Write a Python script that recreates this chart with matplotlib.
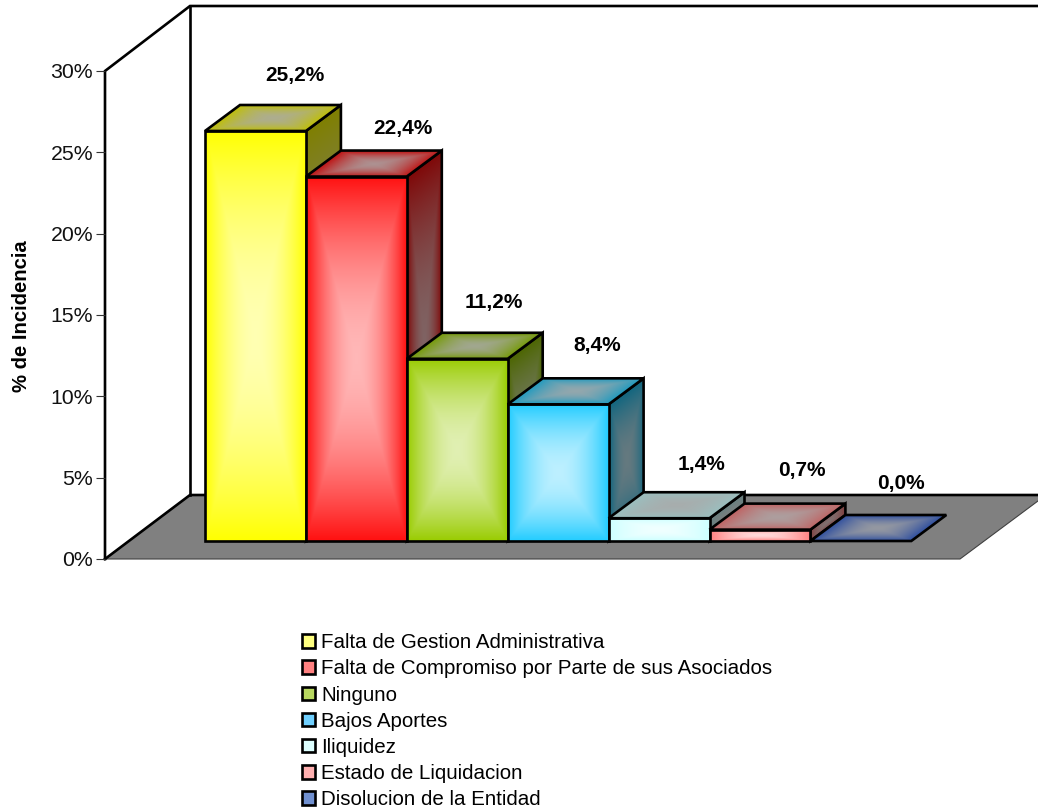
import numpy as np
import matplotlib
matplotlib.use("Agg")
import matplotlib.pyplot as plt
from matplotlib.patches import Polygon, Patch

plt.rcParams['font.family'] = ['Liberation Sans', 'DejaVu Sans']

# ---- data ----
categories = ["Falta de Gestion Administrativa",
              "Falta de Compromiso por Parte de sus Asociados",
              "Ninguno", "Bajos Aportes", "Iliquidez",
              "Estado de Liquidacion", "Disolucion de la Entidad"]
values = [25.2, 22.4, 11.2, 8.4, 1.4, 0.7, 0.0]
value_labels = ["25,2%", "22,4%", "11,2%", "8,4%", "1,4%", "0,7%", "0,0%"]
tick_values = [0, 5, 10, 15, 20, 25, 30]
tick_labels = ["0%", "5%", "10%", "15%", "20%", "25%", "30%"]
axis_label = "% de Incidencia"

# ---- styles / layout ----
colors = ["#FFFF00", "#FF1010", "#99CC00", "#22CCFF", "#CCFFFF", "#FF8080", "#2F4F9F"]
legend_colors = ["#FFFF80", "#FF8080", "#B8D860", "#70D0FF", "#DDFFFF", "#FFB0B0", "#7090D0"]
label_dx_px = [39, 47, 37, 39, 42, 42, 40]
label_dy_px = [55, 48, 56, 59, 54, 59, 57]

W, H = 1038, 810
BAR_L, BAR_W, BASE_Y, PX_PER_UNIT = 205, 100.9, 541, 16.27
DEPTH_X, DEPTH_Y = 35 / BAR_W, 26 / PX_PER_UNIT
LW = 1.9

fig = plt.figure(figsize=(W / 100, H / 100), dpi=100, facecolor="white")
ax = fig.add_axes([0, 0, 1, 1])
ax.axis("off")
x_min, x_max = -BAR_L / BAR_W, (W - BAR_L) / BAR_W
y_min, y_max = (BASE_Y - H) / PX_PER_UNIT, BASE_Y / PX_PER_UNIT


def px(xp, yp):
    """pixel position of the frame -> data coordinates"""
    return ((xp - BAR_L) / BAR_W, (BASE_Y - yp) / PX_PER_UNIT)


def shade(origin, e1, e2, edge_rgb, mid_rgb, z):
    """parallelogram filled by a rectangular path gradient, black outline"""
    o, e1, e2 = map(np.asarray, (origin, e1, e2))
    corners = np.array([o, o + e1, o + e1 + e2, o + e2])
    x0, x1 = corners[:, 0].min(), corners[:, 0].max()
    y0, y1 = corners[:, 1].min(), corners[:, 1].max()
    nx = max(int((x1 - x0) * BAR_W) * 2, 4)
    ny = max(int((y1 - y0) * PX_PER_UNIT) * 2, 4)
    gx, gy = np.meshgrid(np.linspace(x0, x1, nx), np.linspace(y0, y1, ny))
    inv = np.linalg.inv(np.column_stack([e1, e2]))
    u = inv[0, 0] * (gx - o[0]) + inv[0, 1] * (gy - o[1])
    v = inv[1, 0] * (gx - o[0]) + inv[1, 1] * (gy - o[1])
    t = np.clip(np.minimum(1 - np.abs(2 * u - 1), 1 - np.abs(2 * v - 1)), 0, 1)
    t = 1 - (1 - t) ** 1.8
    img = (np.asarray(edge_rgb)[None, None, :] * (1 - t[..., None])
           + np.asarray(mid_rgb)[None, None, :] * t[..., None])
    im = ax.imshow(np.clip(img, 0, 1), extent=(x0, x1, y0, y1), origin="lower", aspect="auto",
                   interpolation="bilinear", zorder=z)
    outline = Polygon(corners, closed=True, fc="none", ec="black", lw=LW,
                      joinstyle="miter", zorder=z + 0.1)
    ax.add_patch(outline)
    im.set_clip_path(Polygon(corners, closed=True, transform=ax.transData))


# ---- floor and walls ----
floor = [px(105, 559), px(190, 495), px(1046, 495), px(960, 559)]
ax.add_patch(Polygon(floor, closed=True, fc="#808080", ec="#404040", lw=0.8, zorder=1))
frame_lines = [[(105, 559), (190, 495), (1038, 495)],
               [(105, 559), (105, 71), (190, 6), (1038, 6)],
               [(190, 6), (190, 495)]]
for line in frame_lines:
    pts = np.array([px(*p) for p in line])
    ax.plot(pts[:, 0], pts[:, 1], color="black", lw=LW, zorder=2, solid_joinstyle="miter")

# ---- bars ----
for i, (val, col) in enumerate(zip(values, colors)):
    rgb = np.array(matplotlib.colors.to_rgb(col))
    z = 3 + i
    if val > 0:
        shade((i + 1, 0), (DEPTH_X, DEPTH_Y), (0, val), rgb * 0.5,
              0.12 * rgb + np.array([0.38, 0.38, 0.38]), z)
        shade((i, 0), (1, 0), (0, val), rgb, 0.3 * rgb + 0.7, z + 0.2)
    top_edge = rgb * 0.72 + 0.03 if val > 0 else rgb
    shade((i, val), (1, 0), (DEPTH_X, DEPTH_Y), top_edge, 0.12 * rgb + 0.56, z + 0.4)
    ax.text(i + 0.5 + label_dx_px[i] / BAR_W, val + label_dy_px[i] / PX_PER_UNIT,
            value_labels[i], ha="center", va="center", fontsize=15,
            fontweight="bold", color="black", zorder=20)

ax.set_xlim(x_min, x_max)
ax.set_ylim(y_min, y_max)

# ---- value axis on the front plane ----
ax2 = fig.add_axes([105 / W, (H - 559) / H, 1 / W, (559 - 71) / H], zorder=5)
ax2.patch.set_alpha(0)
ax2.set_ylim(0, 30)
ax2.set_xticks([])
for s in ("top", "right", "bottom", "left"):
    ax2.spines[s].set_visible(False)
ax2.set_yticks(tick_values)
ax2.set_yticklabels(tick_labels, fontsize=15.3, color="#111111")
ax2.tick_params(axis="y", length=6.5, width=0.8, pad=2, color="#333333")
ax2.set_ylabel(axis_label, fontsize=14.6, fontweight="bold")
ax2.yaxis.set_label_coords(31 / W, (H - 316) / H, transform=fig.transFigure)

# ---- legend ----
handles = [Patch(fc=c, ec="black", lw=LW) for c in legend_colors]
leg = fig.legend(handles, categories, loc="upper left",
                 bbox_to_anchor=(294 / W, 1 - 625 / H), frameon=False,
                 fontsize=14.8, handlelength=0.63, handleheight=0.63,
                 handletextpad=0.3, labelspacing=0.35, borderpad=0.4,
                 borderaxespad=0)
fig.savefig("out.png", dpi=100, facecolor="white")
